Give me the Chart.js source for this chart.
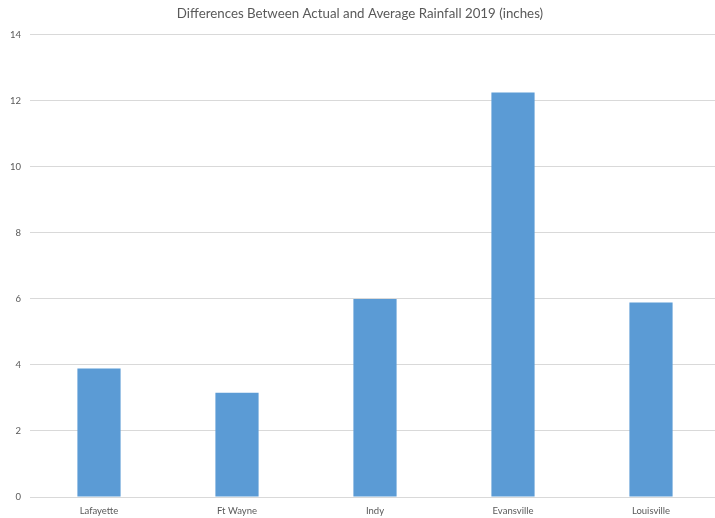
<!DOCTYPE html>
<html>
<head>
<meta charset="utf-8">
<title>Rainfall differences 2019</title>
<script src="https://cdn.jsdelivr.net/npm/chart.js@4.4.1/dist/chart.umd.min.js"></script>
<style>
  html, body { margin: 0; padding: 0; background: #fff; overflow: hidden; }
  #wrap { width: 725px; height: 518px; }
</style>
</head>
<body>
<div id="wrap"><canvas id="rainChart" width="725" height="518"></canvas></div>
<script>
// Cities and how far 2019 rainfall was above average (inches)
const cities = ['Lafayette', 'Ft Wayne', 'Indy', 'Evansville', 'Louisville'];
const rainDiff = [3.89, 3.16, 6.0, 12.26, 5.89];
const yTicks = [0, 2, 4, 6, 8, 10, 12, 14];

const textGray = '#595959';
const gridGray = '#d9d9d9';
const barBlue = '#5b9bd5';

const ctx = document.getElementById('rainChart').getContext('2d');

new Chart(ctx, {
    type: 'bar',
    data: {
        labels: cities,
        datasets: [{
            label: 'Difference',
            data: rainDiff,
            backgroundColor: barBlue,
            borderWidth: 0,
            categoryPercentage: 1,
            barPercentage: 0.313
        }]
    },
    options: {
        responsive: false,
        devicePixelRatio: 1,
        animation: false,
        layout: {
            padding: { left: 0, right: 5, top: 0, bottom: 0 }
        },
        plugins: {
            legend: { display: false },
            tooltip: { enabled: false },
            title: {
                display: true,
                text: 'Differences Between Actual and Average Rainfall 2019 (inches)',
                color: textGray,
                font: { family: 'Lato', size: 13.3, weight: 'normal' },
                padding: { top: 6, bottom: 13 }
            }
        },
        scales: {
            x: {
                grid: { display: false, drawTicks: false },
                border: { display: true, color: gridGray, width: 1 },
                ticks: {
                    color: textGray,
                    font: { family: 'Lato', size: 9.5 },
                    padding: 8,
                    maxRotation: 0
                },
                afterFit: scale => { scale.height = 21; }
            },
            y: {
                min: 0,
                max: 14,
                afterBuildTicks: scale => {
                    scale.ticks = yTicks.map(v => ({ value: v }));
                },
                grid: { color: gridGray, lineWidth: 1, drawTicks: false },
                border: { display: false },
                ticks: {
                    color: textGray,
                    font: { family: 'Lato', size: 9.5 },
                    padding: 9
                },
                afterFit: scale => { scale.width = 30; }
            }
        }
    }
});
</script>
</body>
</html>
